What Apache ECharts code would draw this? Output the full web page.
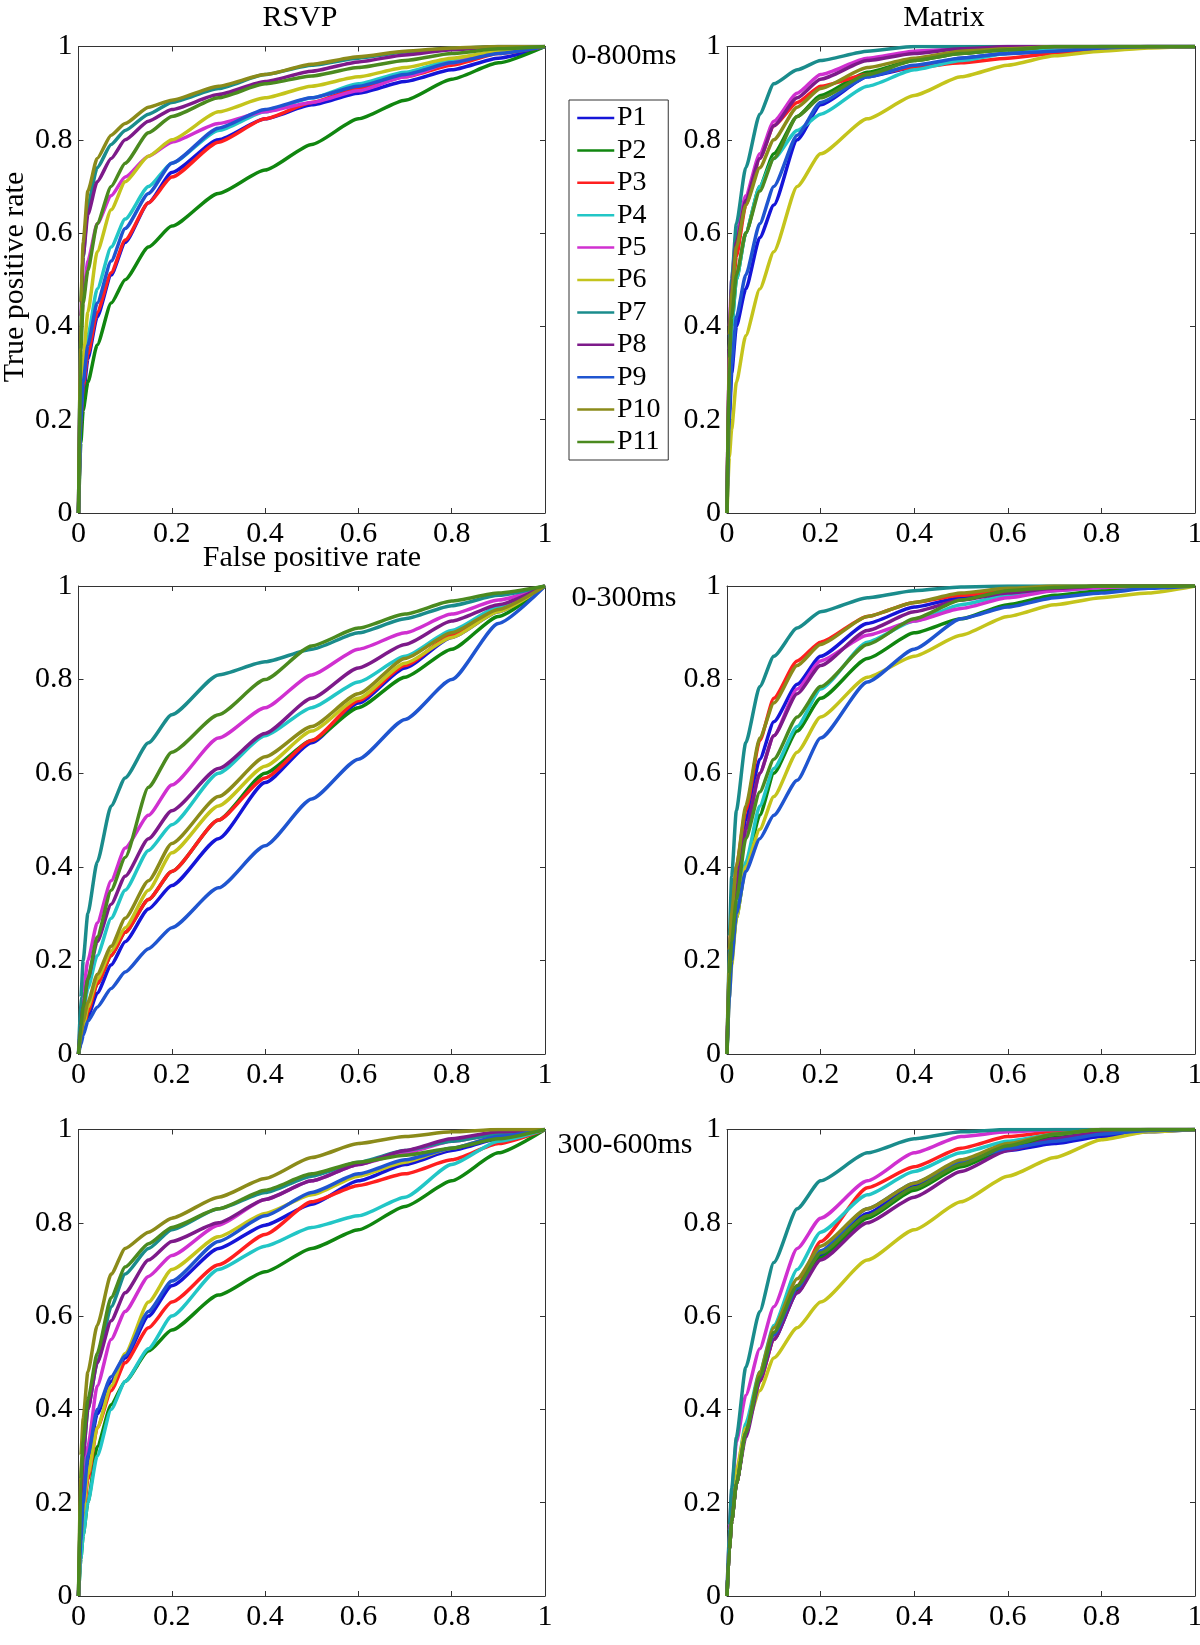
<!DOCTYPE html>
<html>
<head>
<meta charset="utf-8">
<script src="https://cdn.jsdelivr.net/npm/echarts@6.0.0/dist/echarts.min.js"></script>
<style>
html,body{margin:0;padding:0;background:#fff;}
#chart{width:1200px;height:1645px;}
</style>
</head>
<body>
<div id="chart"></div>
<script>
// ---- data ----
const FPR = [0, 0.005, 0.01, 0.02, 0.04, 0.07, 0.1, 0.15, 0.2, 0.3, 0.4, 0.5, 0.6, 0.7, 0.8, 0.9, 1];
const PARTICIPANTS = ['P1','P2','P3','P4','P5','P6','P7','P8','P9','P10','P11'];
const TICKS = [0, 0.2, 0.4, 0.6, 0.8, 1];
const TICK_LABELS = ['0', '0.2', '0.4', '0.6', '0.8', '1'];
const COLUMN_TITLES = ['RSVP', 'Matrix'];
const ROW_TITLES = ['0-800ms', '0-300ms', '300-600ms'];

// TPR at each FPR, one row per participant (P1..P11)
const TPR_RSVP_0_800 = [
  [0,.18,.25,.33,.42,.51,.58,.665,.73,.80,.845,.875,.90,.925,.95,.975,1],
  [0,.15,.22,.28,.36,.45,.50,.57,.615,.685,.735,.79,.845,.885,.93,.965,1],
  [0,.20,.27,.34,.43,.515,.585,.665,.72,.795,.845,.88,.91,.935,.96,.985,1],
  [0,.22,.30,.38,.48,.57,.63,.70,.75,.82,.86,.89,.92,.945,.97,.99,1],
  [0,.38,.46,.54,.62,.68,.72,.765,.795,.835,.86,.88,.905,.935,.965,.99,1],
  [0,.25,.33,.43,.56,.65,.71,.765,.80,.86,.89,.915,.935,.955,.975,.99,1],
  [0,.45,.55,.66,.74,.79,.82,.855,.88,.91,.94,.96,.975,.988,.996,1,1],
  [0,.42,.55,.64,.71,.76,.80,.84,.865,.897,.925,.947,.967,.982,.993,1,1],
  [0,.20,.28,.36,.45,.54,.61,.685,.75,.825,.865,.89,.915,.94,.965,.985,1],
  [0,.45,.58,.69,.76,.81,.835,.87,.885,.915,.94,.962,.978,.99,.997,1,1],
  [0,.35,.45,.52,.62,.70,.75,.815,.85,.89,.92,.937,.955,.97,.985,.995,1]
];
const TPR_MATRIX_0_800 = [
  [0,.20,.30,.40,.48,.59,.66,.80,.875,.935,.955,.975,.985,.99,.995,1,1],
  [0,.30,.40,.50,.60,.70,.77,.85,.895,.945,.97,.985,.993,.997,1,1,1],
  [0,.35,.45,.55,.66,.76,.83,.88,.915,.94,.955,.965,.975,.985,.995,1,1],
  [0,.30,.40,.50,.60,.70,.76,.82,.855,.915,.95,.97,.985,.993,1,1,1],
  [0,.40,.50,.60,.68,.77,.84,.90,.94,.975,.99,.995,1,1,1,1,1],
  [0,.12,.18,.28,.38,.48,.56,.70,.77,.845,.895,.935,.96,.98,.99,.997,1],
  [0,.35,.50,.62,.74,.855,.92,.95,.97,.99,1,1,1,1,1,1,1],
  [0,.38,.48,.58,.67,.76,.83,.89,.93,.97,.985,.995,1,1,1,1,1],
  [0,.22,.32,.42,.51,.62,.70,.81,.88,.935,.96,.975,.985,.99,.997,1,1],
  [0,.38,.47,.57,.66,.74,.80,.87,.91,.955,.975,.99,.995,1,1,1,1],
  [0,.33,.42,.51,.60,.69,.76,.85,.89,.94,.97,.985,.993,1,1,1,1]
];
const TPR_RSVP_0_300 = [
  [0,.03,.05,.08,.13,.19,.24,.31,.36,.46,.58,.665,.75,.825,.89,.945,1],
  [0,.03,.05,.09,.15,.21,.26,.33,.39,.50,.60,.67,.74,.805,.865,.935,1],
  [0,.03,.05,.09,.15,.21,.26,.33,.39,.50,.59,.67,.755,.83,.895,.95,1],
  [0,.05,.09,.14,.21,.29,.35,.435,.49,.60,.68,.74,.795,.85,.905,.955,1],
  [0,.08,.13,.20,.28,.37,.44,.51,.575,.675,.74,.81,.865,.90,.94,.97,1],
  [0,.03,.06,.10,.16,.22,.27,.35,.43,.53,.615,.69,.76,.835,.89,.945,1],
  [0,.12,.20,.30,.41,.53,.59,.665,.725,.81,.838,.865,.90,.93,.958,.98,1],
  [0,.06,.10,.16,.24,.32,.38,.46,.52,.61,.685,.76,.825,.875,.925,.96,1],
  [0,.02,.04,.07,.10,.14,.175,.225,.27,.355,.445,.545,.63,.715,.80,.92,1],
  [0,.04,.07,.11,.17,.23,.29,.37,.45,.55,.635,.70,.77,.845,.90,.95,1],
  [0,.06,.10,.16,.25,.35,.42,.57,.645,.725,.80,.872,.91,.94,.968,.985,1]
];
const TPR_MATRIX_0_300 = [
  [0,.20,.27,.37,.50,.63,.71,.79,.85,.92,.955,.975,.99,.995,1,1,1],
  [0,.15,.21,.29,.40,.51,.60,.69,.76,.845,.90,.93,.96,.98,.99,1,1],
  [0,.22,.30,.40,.52,.67,.76,.84,.88,.935,.965,.98,.99,.995,1,1,1],
  [0,.15,.22,.30,.41,.53,.61,.70,.78,.88,.925,.96,.98,.99,.997,1,1],
  [0,.18,.25,.35,.47,.60,.68,.78,.84,.895,.925,.952,.975,.99,.997,1,1],
  [0,.12,.19,.29,.40,.48,.55,.645,.72,.805,.85,.895,.935,.96,.975,.985,1],
  [0,.25,.38,.52,.665,.785,.85,.91,.945,.975,.99,.998,1,1,1,1,1],
  [0,.18,.25,.35,.48,.60,.68,.77,.83,.905,.945,.97,.985,.995,1,1,1],
  [0,.12,.20,.30,.39,.46,.51,.585,.675,.795,.865,.93,.955,.975,.985,.995,1],
  [0,.22,.30,.40,.53,.675,.75,.83,.875,.935,.965,.985,.995,1,1,1,1],
  [0,.17,.24,.33,.46,.56,.63,.72,.785,.875,.93,.97,.99,.997,1,1,1]
];
const TPR_RSVP_300_600 = [
  [0,.12,.19,.29,.39,.46,.51,.60,.665,.745,.795,.84,.89,.925,.955,.98,1],
  [0,.08,.13,.20,.32,.41,.46,.525,.57,.645,.695,.745,.785,.835,.89,.95,1],
  [0,.10,.16,.25,.36,.44,.50,.575,.63,.71,.775,.845,.88,.905,.935,.97,1],
  [0,.08,.13,.20,.30,.40,.46,.53,.60,.70,.75,.79,.815,.855,.925,.975,1],
  [0,.15,.22,.32,.45,.55,.61,.685,.73,.795,.85,.89,.925,.95,.975,.99,1],
  [0,.12,.18,.26,.36,.45,.52,.63,.70,.77,.82,.86,.90,.93,.96,.985,1],
  [0,.22,.30,.40,.50,.62,.69,.745,.785,.83,.865,.90,.93,.955,.975,.99,1],
  [0,.22,.30,.40,.50,.59,.65,.72,.76,.80,.85,.89,.925,.955,.98,.995,1],
  [0,.12,.20,.30,.40,.47,.515,.61,.675,.76,.815,.865,.905,.935,.96,.985,1],
  [0,.30,.38,.48,.58,.69,.745,.78,.81,.855,.895,.94,.97,.985,.995,1,1],
  [0,.25,.33,.42,.52,.64,.705,.755,.79,.83,.87,.905,.93,.945,.96,.98,1]
];
const TPR_MATRIX_300_600 = [
  [0,.10,.16,.24,.35,.47,.55,.65,.73,.82,.88,.925,.955,.97,.985,.995,1],
  [0,.10,.16,.24,.35,.47,.56,.655,.725,.81,.87,.92,.96,.985,.997,1,1],
  [0,.10,.16,.24,.35,.46,.55,.665,.76,.875,.92,.96,.985,.995,1,1,1],
  [0,.11,.17,.26,.37,.48,.58,.70,.78,.86,.91,.95,.975,.99,1,1,1],
  [0,.14,.22,.33,.43,.53,.62,.745,.81,.89,.95,.985,.995,1,1,1,1],
  [0,.10,.16,.27,.36,.44,.51,.575,.63,.72,.785,.845,.90,.94,.978,.995,1],
  [0,.15,.23,.34,.49,.61,.715,.83,.89,.95,.98,.995,1,1,1,1,1],
  [0,.10,.16,.24,.34,.46,.55,.65,.72,.80,.855,.91,.955,.98,.995,1,1],
  [0,.10,.16,.24,.35,.47,.56,.66,.74,.83,.885,.93,.96,.975,.99,.998,1],
  [0,.10,.16,.24,.35,.48,.575,.68,.75,.83,.885,.935,.97,.99,1,1,1],
  [0,.10,.16,.24,.35,.47,.565,.665,.735,.815,.875,.925,.965,.99,1,1,1]
];

// ---- styles & layout ----
const COLORS = ['#1515d8','#10860f','#ff1f1f','#22c6c6','#d030d0','#c4c41c','#1a8c8c','#7d1a8a','#1f55d0','#8b8b1a','#4b8a1f'];
const FONT_MAIN = '30px Liberation Serif';
const FONT_LEGEND = '28px Liberation Serif';
const AX = '#333';
const COL_LEFT = [78.5, 727];
const COL_WIDTH = [466.5, 468];
const ROW_TOP = [46.5, 586, 1129.5];
const ROW_HEIGHT = [466.5, 468, 466.5];
const LEGEND_LEFT = 569, LEGEND_TOP = 100, LEGEND_PAD = 4, LEGEND_ITEM_H = 28, LEGEND_GAP = 4.4;

const PANELS = [
  {data: TPR_RSVP_0_800, row: 0, col: 0},
  {data: TPR_MATRIX_0_800, row: 0, col: 1},
  {data: TPR_RSVP_0_300, row: 1, col: 0},
  {data: TPR_MATRIX_0_300, row: 1, col: 1},
  {data: TPR_RSVP_300_600, row: 2, col: 0},
  {data: TPR_MATRIX_300_600, row: 2, col: 1}
];

const grids = [], xAxes = [], yAxes = [], series = [];
const axisBase = () => ({
  type: 'value', min: TICKS[0], max: TICKS[TICKS.length - 1], interval: TICKS[1] - TICKS[0],
  axisLine: {show: true, onZero: false, lineStyle: {color: AX, width: 1}},
  axisTick: {show: true, inside: true, length: 5, lineStyle: {color: AX, width: 1}},
  axisLabel: {show: false},
  splitLine: {show: false}
});

PANELS.forEach((p, gi) => {
  grids.push({left: COL_LEFT[p.col], top: ROW_TOP[p.row], width: COL_WIDTH[p.col], height: ROW_HEIGHT[p.row], containLabel: false});
  xAxes.push(Object.assign(axisBase(), {gridIndex: gi, position: 'bottom'}));
  xAxes.push(Object.assign(axisBase(), {gridIndex: gi, position: 'top'}));
  yAxes.push(Object.assign(axisBase(), {gridIndex: gi, position: 'left'}));
  yAxes.push(Object.assign(axisBase(), {gridIndex: gi, position: 'right'}));
  p.data.forEach((row, i) => {
    series.push({
      name: PARTICIPANTS[i], type: 'line', xAxisIndex: 2 * gi, yAxisIndex: 2 * gi,
      data: FPR.map((x, k) => [x, row[k]]),
      showSymbol: false, symbol: 'none', smooth: 0.2, smoothMonotone: 'x',
      lineStyle: {color: COLORS[i], width: 3.5}, itemStyle: {color: COLORS[i]},
      emphasis: {disabled: true}, animation: false
    });
  });
});

const chart = echarts.init(document.getElementById('chart'), null, {renderer: 'canvas'});
chart.setOption({
  backgroundColor: '#fff',
  animation: false,
  grid: grids, xAxis: xAxes, yAxis: yAxes, series: series,
  legend: {
    data: PARTICIPANTS, orient: 'vertical', left: LEGEND_LEFT, top: LEGEND_TOP,
    itemWidth: 37, itemHeight: 22, itemGap: LEGEND_GAP, padding: [LEGEND_PAD, 6, LEGEND_PAD, 7],
    borderColor: '#333', borderWidth: 1, backgroundColor: '#fff',
    selectedMode: false,
    itemStyle: {opacity: 0},
    lineStyle: {width: 2.5},
    textStyle: {fontSize: 28, color: 'rgba(0,0,0,0)', width: 43, overflow: 'truncate', lineHeight: LEGEND_ITEM_H}
  }
});

// ---- texts (serif), placed from the axes' own scales ----
const txt = (s, x, y, font, align, rot) => ({
  type: 'text', x: x, y: y, rotation: rot || 0, silent: true, z: 100,
  style: {text: s, font: font, fill: '#000', align: align, verticalAlign: 'middle', textAlign: align, textVerticalAlign: 'middle'}
});
const graphics = [];
PANELS.forEach((p, gi) => {
  const x0 = chart.convertToPixel({xAxisIndex: 2 * gi}, TICKS[0]);
  const y0 = chart.convertToPixel({yAxisIndex: 2 * gi}, TICKS[0]);
  TICKS.forEach((v, k) => {
    graphics.push(txt(TICK_LABELS[k], chart.convertToPixel({xAxisIndex: 2 * gi}, v), y0 + 21, FONT_MAIN, 'center'));
    graphics.push(txt(TICK_LABELS[k], x0 - 6, chart.convertToPixel({yAxisIndex: 2 * gi}, v), FONT_MAIN, 'right'));
  });
});
graphics.push(txt(COLUMN_TITLES[0], 300, 18, FONT_MAIN, 'center'));
graphics.push(txt(COLUMN_TITLES[1], 944, 18, FONT_MAIN, 'center'));
graphics.push(txt(ROW_TITLES[0], 624, 56, FONT_MAIN, 'center'));
graphics.push(txt(ROW_TITLES[1], 624, 598, FONT_MAIN, 'center'));
graphics.push(txt(ROW_TITLES[2], 625, 1145, FONT_MAIN, 'center'));
graphics.push(txt('True positive rate', 15, 277, FONT_MAIN, 'center', Math.PI / 2));
graphics.push(txt('False positive rate', 312, 558, FONT_MAIN, 'center'));
PARTICIPANTS.forEach((name, i) => {
  graphics.push(txt(name, LEGEND_LEFT + 7 + 37 + 4,
    LEGEND_TOP + LEGEND_PAD + LEGEND_ITEM_H / 2 + i * (LEGEND_ITEM_H + LEGEND_GAP), FONT_LEGEND, 'left'));
});
chart.setOption({graphic: graphics});
</script>
</body>
</html>
